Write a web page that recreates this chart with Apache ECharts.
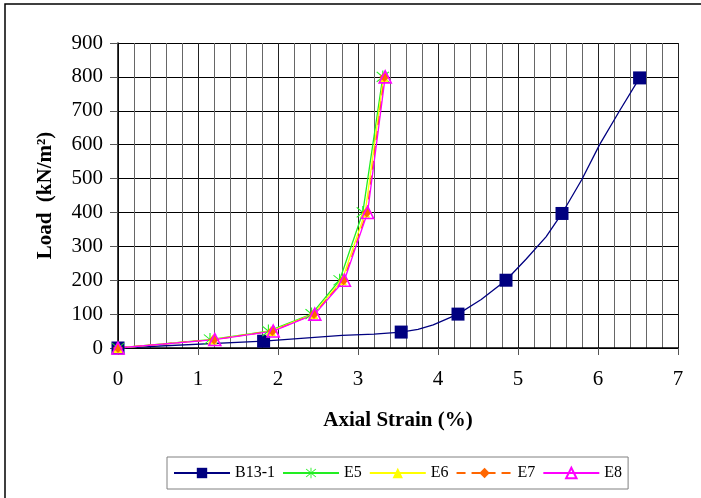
<!DOCTYPE html>
<html>
<head>
<meta charset="utf-8">
<script src="https://cdn.jsdelivr.net/npm/echarts@6/dist/echarts.min.js"></script>
<style>
  html, body { margin: 0; padding: 0; background: #fff; }
  #chart { width: 701px; height: 498px; }
</style>
</head>
<body>
<div id="chart"></div>
<script>
// Axial strain (%) vs applied load (kN/m²)
const seriesNames = ['B13-1', 'E5', 'E6', 'E7', 'E8'];

// B13-1: measured curve; markers only on the load steps
const b13Strain = [0, 1.82, 2.8, 3.2, 3.54, 3.75, 3.94, 4.25, 4.54, 4.85, 5.1, 5.35, 5.55, 5.8, 6.02, 6.27, 6.52];
const b13Load   = [0, 20, 37, 41, 47, 55, 68, 100, 143, 200, 262, 328, 397, 498, 600, 700, 797];
const b13Marked = [1, 1, 0, 0, 1, 0, 0, 1, 0, 1, 0, 0, 1, 0, 0, 0, 1];

// Load steps shared by E5–E8
const eLoad = [0, 25, 50, 100, 200, 400, 800];
const e5Strain = [0, 1.15, 1.88, 2.42, 2.77, 3.06, 3.31];
const e6Strain = [0, 1.18, 1.91, 2.44, 2.80, 3.09, 3.32];
const e7Strain = [0, 1.20, 1.93, 2.45, 2.82, 3.11, 3.33];
const e8Strain = [0, 1.21, 1.94, 2.46, 2.83, 3.12, 3.34];

const xTicks = { min: 0, max: 7, interval: 1 };
const yTicks = { min: 0, max: 900, interval: 100 };

const FONT = '"Liberation Serif", "Times New Roman", serif';

const pairs = (xs, ys) => xs.map((x, i) => [x, ys[i]]);

const b13Data = b13Strain.map((x, i) => b13Marked[i]
  ? { value: [x, b13Load[i]] }
  : { value: [x, b13Load[i]], symbol: 'none' });

// asterisk marker: vertical bar plus two diagonals
const asterisk = 'path://M9.3 0L10.7 0L10.7 20L9.3 20Z' +
  'M1.8 2.8L2.8 1.8L18.2 17.2L17.2 18.2Z' +
  'M17.2 1.8L18.2 2.8L2.8 18.2L1.8 17.2Z';

const chart = echarts.init(document.getElementById('chart'), null, { renderer: 'canvas' });

chart.setOption({
  animation: false,
  backgroundColor: '#fff',
  textStyle: { fontFamily: FONT, color: '#000' },
  graphic: [{
    type: 'rect',
    shape: { x: 5, y: 4, width: 900, height: 700 },
    style: { fill: 'none', stroke: '#000', lineWidth: 1.5 },
    silent: true
  }],
  grid: { left: 118, right: 23, top: 43, bottom: 150 },
  legend: {
    data: seriesNames,
    left: 167,
    top: 457,
    itemWidth: 56,
    itemHeight: 13,
    itemGap: 7,
    padding: [8, 6, 8, 6],
    borderColor: '#808080',
    borderWidth: 1,
    borderRadius: 0,
    textStyle: { fontFamily: FONT, fontSize: 16, color: '#000' }
  },
  xAxis: {
    type: 'value',
    min: xTicks.min, max: xTicks.max, interval: xTicks.interval,
    name: 'Axial Strain (%)',
    nameLocation: 'middle',
    nameGap: 62,
    nameTextStyle: { fontFamily: FONT, fontSize: 21, fontWeight: 'bold', color: '#000' },
    axisLine: { show: true, onZero: false, lineStyle: { color: '#000', width: 1.5 } },
    axisTick: { show: true, inside: false, length: 7, lineStyle: { color: '#555' } },
    axisLabel: { fontFamily: FONT, fontSize: 21, color: '#000', margin: 21 },
    splitLine: { show: true, lineStyle: { color: '#222', width: 1 } },
    minorTick: { show: false, splitNumber: 5 },
    minorSplitLine: { show: true, lineStyle: { color: '#666', width: 1 } }
  },
  yAxis: {
    type: 'value',
    min: yTicks.min, max: yTicks.max, interval: yTicks.interval,
    name: 'Load  (kN/m²)',
    nameLocation: 'middle',
    nameGap: 62,
    nameTextStyle: { fontFamily: FONT, fontSize: 21, fontWeight: 'bold', color: '#000' },
    axisLine: { show: true, lineStyle: { color: '#000', width: 1.5 } },
    axisTick: { show: true, inside: false, length: 8, lineStyle: { color: '#555' } },
    axisLabel: { fontFamily: FONT, fontSize: 21, color: '#000', margin: 15 },
    splitLine: { show: true, lineStyle: { color: '#000', width: 1 } }
  },
  series: [
    {
      name: 'B13-1', type: 'line', data: b13Data,
      symbol: 'rect', symbolSize: 13,
      itemStyle: { color: '#000080' },
      lineStyle: { color: '#000080', width: 1.3 }
    },
    {
      name: 'E5', type: 'line', data: pairs(e5Strain, eLoad),
      symbol: asterisk, symbolSize: 13,
      itemStyle: { color: '#22EE22' },
      lineStyle: { color: '#22EE22', width: 1.3 }
    },
    {
      name: 'E6', type: 'line', data: pairs(e6Strain, eLoad),
      symbol: 'triangle', symbolSize: 10,
      itemStyle: { color: '#FFFF00' },
      lineStyle: { color: '#FFFF00', width: 1.3 }
    },
    {
      name: 'E7', type: 'line', data: pairs(e7Strain, eLoad),
      symbol: 'diamond', symbolSize: 10,
      itemStyle: { color: '#FF6600' },
      lineStyle: { color: '#FF6600', width: 1.3, type: [9, 6] }
    },
    {
      name: 'E8', type: 'line', data: pairs(e8Strain, eLoad),
      symbol: 'triangle', symbolSize: 12,
      itemStyle: { color: 'rgba(255,255,255,0)', borderColor: '#FF00FF', borderWidth: 1.6 },
      lineStyle: { color: '#FF00FF', width: 1.3 }
    }
  ]
});
</script>
</body>
</html>
